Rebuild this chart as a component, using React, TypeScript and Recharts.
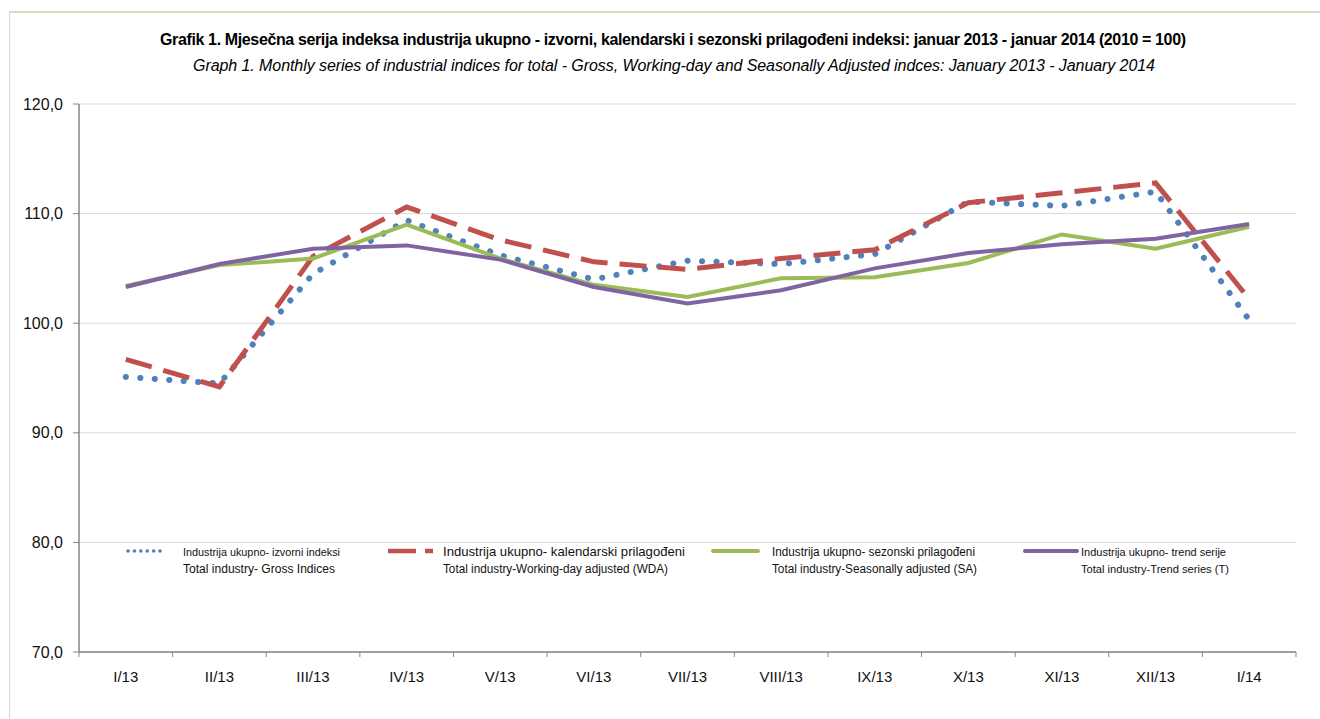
import React from 'react';
import { LineChart, Line, XAxis, YAxis, CartesianGrid, Legend } from 'recharts';

const categories = ['I/13', 'II/13', 'III/13', 'IV/13', 'V/13', 'VI/13', 'VII/13', 'VIII/13', 'IX/13', 'X/13', 'XI/13', 'XII/13', 'I/14'];
const grossIndex = [95.1, 94.5, 104.5, 109.4, 106.2, 104.0, 105.7, 105.4, 106.3, 111.1, 110.7, 112.0, 100.3];
const workingDayAdjusted = [96.7, 94.2, 106.1, 110.6, 107.6, 105.6, 104.9, 105.9, 106.7, 111.0, 111.9, 112.8, 102.2];
const seasonallyAdjusted = [103.4, 105.3, 105.9, 109.0, 105.9, 103.5, 102.4, 104.1, 104.2, 105.5, 108.1, 106.8, 108.8];
const trendSeries = [103.3, 105.4, 106.8, 107.1, 105.8, 103.3, 101.8, 103.0, 105.0, 106.4, 107.2, 107.7, 109.05];
const yTicks = [70, 80, 90, 100, 110, 120];

const titleLine1 = 'Grafik 1. Mjesečna serija indeksa industrija ukupno - izvorni, kalendarski i sezonski prilagođeni indeksi: januar 2013 - januar 2014 (2010 = 100)';
const titleLine2 = 'Graph 1. Monthly series of industrial indices for total - Gross, Working-day and Seasonally Adjusted indces: January 2013 - January 2014';

const legendItems = [
  { key: 'gross', line1: 'Industrija ukupno- izvorni indeksi', line2: 'Total industry- Gross Indices' },
  { key: 'wda', line1: 'Industrija ukupno- kalendarski prilagođeni', line2: 'Total industry-Working-day adjusted (WDA)' },
  { key: 'sa', line1: 'Industrija ukupno- sezonski prilagođeni', line2: 'Total industry-Seasonally adjusted (SA)' },
  { key: 'trend', line1: 'Industrija ukupno- trend serije', line2: 'Total industry-Trend series (T)' },
];

const data = categories.map((month, i) => ({
  month,
  gross: grossIndex[i],
  wda: workingDayAdjusted[i],
  sa: seasonallyAdjusted[i],
  trend: trendSeries[i],
}));

const W = 1320;
const H = 719;
const PLOT_LEFT = 79;
const PLOT_RIGHT = 1296;
const BAND = (PLOT_RIGHT - PLOT_LEFT) / categories.length;

const BLUE = '#4f81bd';
const RED = '#c0504d';
const GREEN = '#9bbb59';
const PURPLE = '#8064a2';
const AXIS = '#868686';

const FONT = "'Liberation Sans', Arial, sans-serif";
const NARROW = "'Liberation Sans Narrow', 'Arial Narrow', 'Liberation Sans', sans-serif";

const XTick = (props: any) => {
  const { x, y, payload, index } = props;
  const last = index === categories.length - 1;
  return (
    <g>
      <line x1={x - BAND / 2} x2={x - BAND / 2} y1={y} y2={y + 5} stroke={AXIS} strokeWidth={1} />
      {last && <line x1={x + BAND / 2} x2={x + BAND / 2} y1={y} y2={y + 5} stroke={AXIS} strokeWidth={1} />}
      <text x={x} y={y + 30} textAnchor="middle" fontFamily={FONT} fontSize={15} fill="#111">
        {payload.value}
      </text>
    </g>
  );
};

const YTick = (props: any) => {
  const { x, y, payload } = props;
  return (
    <text x={x} y={y} dy={5.5} textAnchor="end" fontFamily={FONT} fontSize={16} fill="#111">
      {payload.value.toFixed(1).replace('.', ',')}
    </text>
  );
};

const legendLayout = [
  { x1: 128, x2: 166, tx: 183, s1: 11, w1: 157, s2: 12, w2: 152 },
  { x1: 388, x2: 433, tx: 443, s1: 13, w1: 242, s2: 12, w2: 225 },
  { x1: 713, x2: 758, tx: 772, s1: 12, w1: 203, s2: 12, w2: 205 },
  { x1: 1025, x2: 1077, tx: 1081, s1: 11, w1: 145, s2: 11, w2: 148 },
];

const sampleStyle: Record<string, any> = {
  gross: { stroke: BLUE, strokeWidth: 3.6, strokeDasharray: '0.1 6.3', strokeLinecap: 'round' },
  wda: { stroke: RED, strokeWidth: 4.5, strokeDasharray: '28 9', strokeLinecap: 'butt' },
  sa: { stroke: GREEN, strokeWidth: 4, strokeLinecap: 'round' },
  trend: { stroke: PURPLE, strokeWidth: 4, strokeLinecap: 'round' },
};

const renderLegend = () => (
  <svg width={W} height={H} style={{ position: 'absolute', left: 0, top: 0, overflow: 'visible' }}>
    {legendItems.map((item, i) => {
      const l = legendLayout[i];
      return (
        <g key={item.key}>
          <line x1={l.x1} x2={l.x2} y1={551} y2={551} {...sampleStyle[item.key]} />
          <text x={l.tx} y={556} fontFamily={NARROW} fontSize={l.s1} fill="#111" textLength={l.w1} lengthAdjust="spacingAndGlyphs">
            {item.line1}
          </text>
          <text x={l.tx} y={573} fontFamily={NARROW} fontSize={l.s2} fill="#111" textLength={l.w2} lengthAdjust="spacingAndGlyphs">
            {item.line2}
          </text>
        </g>
      );
    })}
  </svg>
);

export default function App() {
  return (
    <div style={{ position: 'absolute', left: 0, top: 0, width: W, height: H, background: '#fff', overflow: 'hidden' }}>
      <div
        style={{
          position: 'absolute',
          left: 9,
          top: 11,
          width: W,
          height: H,
          borderTop: '2px solid #ddd9c4',
          borderLeft: '1px solid #ddd9c4',
        }}
      />
      <div style={{ position: 'absolute', left: 0, top: 0 }}>
        <LineChart width={W} height={H} data={data} margin={{ top: 104, right: W - PLOT_RIGHT, bottom: 37, left: 9 }}>
          <CartesianGrid horizontal vertical={false} stroke="#d9d9d9" strokeWidth={1} />
          <XAxis
            dataKey="month"
            scale="band"
            height={30}
            interval={0}
            tickLine={false}
            tickSize={0}
            tickMargin={0}
            axisLine={{ stroke: AXIS, strokeWidth: 1.5 }}
            tick={<XTick />}
          />
          <YAxis
            width={70}
            domain={[70, 120]}
            ticks={yTicks}
            interval={0}
            tickSize={6}
            tickMargin={10}
            tickLine={{ stroke: AXIS }}
            axisLine={{ stroke: AXIS, strokeWidth: 1.5 }}
            tick={<YTick />}
          />
          <Legend layout="horizontal" verticalAlign="middle" align="center" content={renderLegend} wrapperStyle={{ position: 'absolute', left: 0, top: 0, width: W, height: H, pointerEvents: 'none' }} />
          <Line dataKey="gross" stroke={BLUE} strokeWidth={6} strokeDasharray="0.1 14.4" strokeLinecap="round" dot={false} activeDot={false} isAnimationActive={false} />
          <Line dataKey="wda" stroke={RED} strokeWidth={5} strokeDasharray="27 12" strokeLinecap="butt" dot={false} activeDot={false} isAnimationActive={false} />
          <Line dataKey="sa" stroke={GREEN} strokeWidth={4} dot={false} activeDot={false} isAnimationActive={false} />
          <Line dataKey="trend" stroke={PURPLE} strokeWidth={4} dot={false} activeDot={false} isAnimationActive={false} />
        </LineChart>
      </div>
      <svg width={W} height={90} style={{ position: 'absolute', left: 0, top: 0, pointerEvents: 'none' }}>
        <text x={673} y={45} textAnchor="middle" fontFamily={NARROW} fontWeight="bold" fontSize={16} fill="#000" textLength={1026} lengthAdjust="spacing">
          {titleLine1}
        </text>
        <text x={674} y={71} textAnchor="middle" fontFamily={NARROW} fontStyle="italic" fontSize={16} fill="#000" textLength={962} lengthAdjust="spacing">
          {titleLine2}
        </text>
      </svg>
    </div>
  );
}
